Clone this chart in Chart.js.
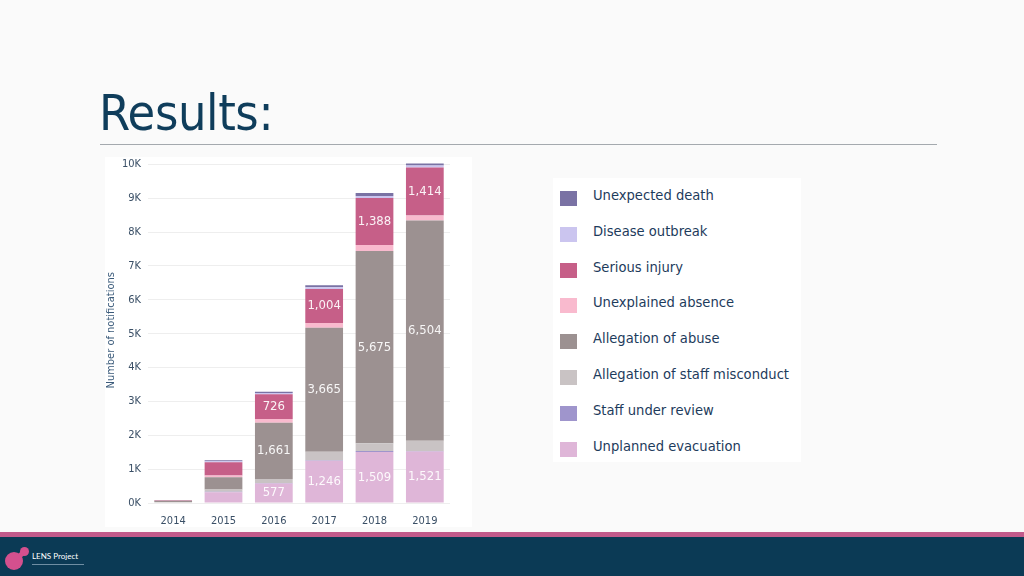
<!DOCTYPE html>
<html>
<head>
<meta charset="utf-8">
<script src="https://cdn.jsdelivr.net/npm/chart.js@4"></script>
<style>
    html, body { margin: 0; padding: 0; }
    body {
        width: 1024px; height: 576px; position: relative; overflow: hidden;
        background: #fafafa;
        font-family: "DejaVu Sans Condensed", "DejaVu Sans", sans-serif;
        font-stretch: condensed;
    }
    #title {
        position: absolute; left: 99px; top: 84px;
        font-size: 50px; color: #0f3d5b; letter-spacing: -0.4px;
    }
    #rule {
        position: absolute; left: 100px; top: 144px; width: 837px; height: 1px;
        background: #a4a9ae;
    }
    #panel {
        position: absolute; left: 105px; top: 157px; width: 367px; height: 370px;
        background: #ffffff;
    }
    #wrap { position: absolute; left: 105px; top: 144px; width: 367px; height: 383px; }
    #legendBox {
        position: absolute; left: 553px; top: 178px; width: 248px; height: 284px;
        background: #ffffff;
    }
    .item { position: absolute; left: 0; height: 20px; }
    .item .sw { position: absolute; left: 7px; top: 13px; width: 17px; height: 15px; }
    .item .tx { position: absolute; left: 40px; top: 8px; font-size: 14.6px; color: #1d3b5c; white-space: nowrap; }
    #stripe { position: absolute; left: 0; top: 532px; width: 1024px; height: 5px; background: #c25a8b; }
    #footer { position: absolute; left: 0; top: 537px; width: 1024px; height: 39px; background: #0b3a55; }
    #logoA { position: absolute; left: 5px; top: 552px; width: 18px; height: 18px; border-radius: 50%; background: #d4508e; }
    #logoB { position: absolute; left: 20px; top: 547px; width: 9px; height: 9px; border-radius: 50%; background: #d4508e; }
    #logoC { position: absolute; left: 14px; top: 553px; width: 12px; height: 5px; background: #d4508e; transform: rotate(-40deg); }
    #brand { position: absolute; left: 32px; top: 551px; font-size: 8px; color: #ffffff; font-family: Lato, sans-serif; }
    #brandSub { position: absolute; left: 32px; top: 564px; width: 52px; height: 1px; background: #6f8ea3; }
</style>
</head>
<body>
<div id="title">Results:</div>
<div id="rule"></div>
<div id="panel"></div>
<div id="wrap"><canvas id="chart"></canvas></div>
<div id="legendBox"></div>
<div id="stripe"></div>
<div id="footer"></div>
<div id="logoC"></div>
<div id="logoA"></div>
<div id="logoB"></div>
<div id="brand">LENS Project</div>
<div id="brandSub"></div>

<script>
// Années
const years = ['2014', '2015', '2016', '2017', '2018', '2019'];

// Séries (du bas de la pile vers le haut)
const unplannedEvacuation = [15, 320, 577, 1246, 1509, 1521];
const staffUnderReview = [3, 10, 15, 20, 25, 15];
const staffMisconduct = [10, 70, 120, 245, 230, 300];
const allegationAbuse = [35, 360, 1661, 3665, 5675, 6504];
const unexplainedAbsence = [5, 50, 110, 140, 180, 150];
const seriousInjury = [15, 390, 726, 1004, 1388, 1414];
const diseaseOutbreak = [2, 30, 40, 50, 60, 60];
const unexpectedDeath = [2, 30, 40, 60, 90, 60];

// Graduations de l'axe Y
const yTicks = [0, 1000, 2000, 3000, 4000, 5000, 6000, 7000, 8000, 9000, 10000];

const seriesNames = [
    'Unplanned evacuation', 'Staff under review', 'Allegation of staff misconduct',
    'Allegation of abuse', 'Unexplained absence', 'Serious injury',
    'Disease outbreak', 'Unexpected death'
];
const seriesValues = [
    unplannedEvacuation, staffUnderReview, staffMisconduct, allegationAbuse,
    unexplainedAbsence, seriousInjury, diseaseOutbreak, unexpectedDeath
];
const seriesColors = [
    '#dfb6d8', '#9f95cc', '#c9c3c4', '#9c9191',
    '#f9bace', '#c65f88', '#cbc5ef', '#7a72a4'
];
// Séries dont les valeurs sont affichées dans les barres
const labelled = ['Unplanned evacuation', 'Allegation of abuse', 'Serious injury'];

// Légende HTML (ordre inverse de la pile)
const legendBox = document.getElementById('legendBox');
seriesNames.slice().reverse().forEach((name, i) => {
    const idx = seriesNames.length - 1 - i;
    const item = document.createElement('div');
    item.className = 'item';
    item.style.top = (i * 35.8) + 'px';
    item.innerHTML = '<div class="sw" style="background:' + seriesColors[idx] + '"></div>' +
        '<div class="tx">' + name + '</div>';
    legendBox.appendChild(item);
});

// Étiquettes de valeurs au centre des segments
const valueLabels = {
    id: 'valueLabels',
    afterDatasetsDraw(chart) {
        const ctx = chart.ctx;
        ctx.save();
        ctx.font = '13px "DejaVu Sans Condensed", "DejaVu Sans", sans-serif';
        ctx.fillStyle = 'rgba(255,255,255,0.92)';
        ctx.textAlign = 'center';
        ctx.textBaseline = 'middle';
        chart.data.datasets.forEach((ds, di) => {
            if (!labelled.includes(ds.label)) return;
            chart.getDatasetMeta(di).data.forEach((bar, i) => {
                const v = ds.data[i];
                if (v < 500) return;
                ctx.fillText(v.toLocaleString('en-US'), bar.x, (bar.y + bar.base) / 2);
            });
        });
        ctx.restore();
    }
};

new Chart(document.getElementById('chart'), {
    type: 'bar',
    data: {
        labels: years,
        datasets: seriesNames.map((name, i) => ({
            label: name,
            data: seriesValues[i],
            backgroundColor: seriesColors[i],
            borderWidth: 0,
            categoryPercentage: 0.75,
            barPercentage: 1
        }))
    },
    options: {
        responsive: true,
        maintainAspectRatio: false,
        animation: false,
        layout: { padding: { top: 6, right: 22, left: 0, bottom: 0 } },
        plugins: {
            legend: { display: false },
            tooltip: { enabled: false }
        },
        scales: {
            x: {
                stacked: true,
                grid: { display: false },
                border: { display: false },
                ticks: {
                    color: '#3a4f66',
                    padding: 4,
                    font: { size: 11, family: '"DejaVu Sans Condensed", "DejaVu Sans", sans-serif' }
                },
                afterFit: scale => { scale.height = 24; }
            },
            y: {
                stacked: true,
                min: 0,
                max: 10200,
                afterBuildTicks: scale => { scale.ticks = yTicks.map(v => ({ value: v })); },
                grid: { color: '#eeeeee', drawTicks: false },
                border: { display: false },
                ticks: {
                    color: '#3a4f66',
                    padding: 7,
                    font: { size: 11, family: '"DejaVu Sans Condensed", "DejaVu Sans", sans-serif' },
                    callback: v => (v / 1000) + 'K'
                },
                title: {
                    display: true,
                    text: 'Number of notifications',
                    color: '#3a5a7a',
                    padding: { top: 0, bottom: 0 },
                    font: { size: 11, family: '"DejaVu Sans Condensed", "DejaVu Sans", sans-serif' }
                },
                afterFit: scale => { scale.width = 43; }
            }
        }
    },
    plugins: [valueLabels]
});
</script>
</body>
</html>
